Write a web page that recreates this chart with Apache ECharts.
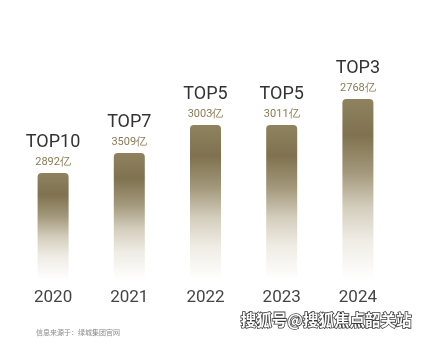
<!DOCTYPE html>
<html>
<head>
<meta charset="utf-8">
<script src="https://cdn.jsdelivr.net/npm/echarts@6/dist/echarts.min.js"></script>
<style>
  html, body { margin: 0; padding: 0; background: #fff; }
  #chart { width: 423px; height: 338px; }
</style>
</head>
<body>
<div id="chart"></div>
<script>
// Sales ranking by year
const years = ['2020', '2021', '2022', '2023', '2024'];
const ranks = ['TOP10', 'TOP7', 'TOP5', 'TOP5', 'TOP3'];
const salesLabels = ['2892亿', '3509亿', '3003亿', '3011亿', '2768亿'];
// bar height expresses the ranking position
const rankScore = [107, 127, 155, 155, 181];

const chart = echarts.init(document.getElementById('chart'));

const barColor = new echarts.graphic.LinearGradient(0, 0, 0, 1, [
  { offset: 0, color: '#8f825f' },
  { offset: 0.2, color: '#807250' },
  { offset: 0.4, color: '#a2977a' },
  { offset: 0.6, color: '#d4cebd' },
  { offset: 0.78, color: '#efece4' },
  { offset: 1, color: '#ffffff' }
]);

chart.setOption({
  backgroundColor: '#ffffff',
  animation: false,
  grid: { left: 15, right: 27, top: 80, bottom: 58 },
  xAxis: {
    type: 'category',
    data: years,
    axisLine: { show: false },
    axisTick: { show: false },
    axisLabel: {
      color: '#454545',
      fontSize: 17,
      fontFamily: 'Roboto',
      margin: 9
    }
  },
  yAxis: {
    type: 'value',
    min: 0,
    max: 200,
    show: false
  },
  series: [{
    type: 'bar',
    data: rankScore,
    barWidth: 31,
    itemStyle: {
      color: barColor,
      borderRadius: [4, 4, 0, 0]
    },
    label: {
      show: true,
      position: 'top',
      distance: 4,
      formatter: p => '{t|' + ranks[p.dataIndex] + '}\n{v|' + salesLabels[p.dataIndex] + '}',
      rich: {
        t: { fontSize: 18, color: '#333333', fontFamily: 'Roboto', lineHeight: 26 },
        v: { fontSize: 11, color: '#8a7b55', fontFamily: 'Roboto', lineHeight: 14 }
      }
    }
  }],
  graphic: [
    {
      type: 'text',
      left: 36,
      top: 329,
      style: {
        text: '信息来源于：绿城集团官网',
        fill: '#8a8a8a',
        font: '7px "Noto Sans CJK SC"'
      }
    },
    {
      type: 'text',
      left: 240,
      top: 312,
      style: {
        text: '搜狐号@搜狐焦点韶关站',
        fill: '#ffffff',
        stroke: '#3a3a3a',
        lineWidth: 1.6,
        font: 'bold 15.5px "Noto Sans CJK SC"'
      }
    }
  ]
});
</script>
</body>
</html>
